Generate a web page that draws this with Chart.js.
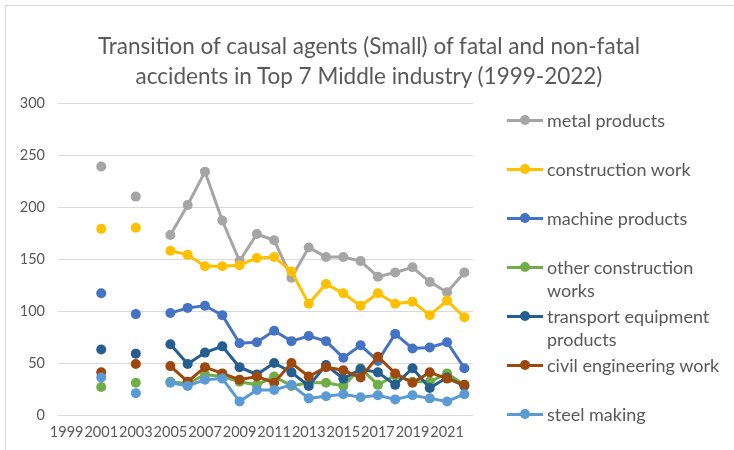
<!DOCTYPE html>
<html>
<head>
<meta charset="utf-8">
<script src="https://cdn.jsdelivr.net/npm/chart.js@4"></script>
<style>
  body { margin: 0; background: #fff; }
  #wrap { position: relative; width: 734px; height: 450px; overflow: hidden; }
  #frame { position: absolute; left: 5px; top: 5px; right: -10px; bottom: -10px; border-top: 1px solid #d9d9d9; border-left: 1px solid #d9d9d9; }
  #chart { position: absolute; left: 0; top: 0; }
  #title { position: absolute; left: 0; width: 738px; top: 31px; text-align: center; font: 22.5px Lato, sans-serif; line-height: 30px; color: #595959; }
  #legend { position: absolute; left: 507px; top: 109px; width: 225px; font: 18px Lato, sans-serif; color: #595959; }
  .item { position: relative; height: 49px; line-height: 23px; padding-left: 40px; }
  .item .txt { width: 178px; }
  .swatch { position: absolute; left: 0; top: 10px; width: 36px; height: 3px; }
  .dot { position: absolute; left: 13px; top: -4px; width: 10px; height: 10px; border-radius: 50%; }
</style>
</head>
<body>
<div id="wrap">
  <div id="frame"></div>
  <canvas id="chart" width="734" height="450"></canvas>
  <div id="title">Transition of causal agents (Small) of fatal and non-fatal<br>accidents in Top 7 Middle industry (1999-2022)</div>
  <div id="legend"></div>
</div>
<script>
// years 1999-2022, gaps where no survey value
var years = ['1999', '2000', '2001', '2002', '2003', '2004', '2005', '2006', '2007', '2008', '2009', '2010',
             '2011', '2012', '2013', '2014', '2015', '2016', '2017', '2018', '2019', '2020', '2021', '2022'];

var metalProducts = [null, null, 239, null, 210, null, 173, 202, 234, 187, 148, 174, 168, 132, 161, 152, 152, 148, 133, 137, 142, 128, 118, 137];
var constructionWork = [null, null, 179, null, 180, null, 158, 154, 143, 143, 144, 151, 152, 138, 107, 126, 117, 105, 117, 107, 109, 96, 110, 94];
var machineProducts = [null, null, 117, null, 97, null, 98, 103, 105, 96, 69, 70, 81, 71, 76, 71, 55, 67, 52, 78, 64, 65, 70, 45];
var otherConstruction = [null, null, 27, null, 31, null, 32, 30, 39, 37, 32, 29, 37, 28, 31, 31, 28, 45, 29, 38, 32, 32, 40, 29];
var transportEquipment = [null, null, 63, null, 59, null, 68, 49, 60, 66, 46, 39, 50, 41, 28, 48, 35, 44, 41, 29, 45, 26, 36, 28];
var civilEngineering = [null, null, 41, null, 49, null, 47, 32, 46, 40, 34, 37, 31, 50, 37, 46, 43, 36, 56, 40, 31, 41, 35, 29];
var steelMaking = [null, null, 36, null, 21, null, 31, 28, 34, 35, 13, 24, 24, 29, 16, 18, 20, 17, 19, 15, 19, 16, 13, 20];

var seriesNames = ['metal products', 'construction work', 'machine products', 'other construction works',
                   'transport equipment products', 'civil engineering work', 'steel making'];
var seriesData = [metalProducts, constructionWork, machineProducts, otherConstruction, transportEquipment, civilEngineering, steelMaking];
var colors = ['#A5A5A5', '#FFC000', '#4472C4', '#70AD47', '#255E91', '#9E480E', '#5B9BD5'];

var datasets = seriesNames.map(function (name, i) {
    return {
        label: name,
        data: seriesData[i],
        borderColor: colors[i],
        backgroundColor: colors[i],
        borderWidth: 3,
        pointRadius: 5,
        pointBorderWidth: 0,
        pointHoverRadius: 5,
        spanGaps: false,
        tension: 0,
        order: seriesNames.length - i   // later series drawn on top, like excel
    };
});

var tickFont = { family: 'Lato', size: 14.5 };

var ctx = document.getElementById('chart').getContext('2d');
var chart = new Chart(ctx, {
    type: 'line',
    data: { labels: years, datasets: datasets },
    options: {
        responsive: false,
        animation: false,
        layout: { padding: { left: 0, top: 103, right: 261, bottom: 0 } },
        plugins: {
            legend: { display: false },
            title: { display: false },
            tooltip: { enabled: false }
        },
        scales: {
            x: {
                offset: true,
                grid: { display: false, drawTicks: false },
                border: { display: false },
                ticks: {
                    color: '#595959',
                    font: tickFont,
                    padding: 9,
                    autoSkip: false,
                    maxRotation: 0,
                    callback: function (val, idx) {
                        return idx % 2 === 0 ? this.getLabelForValue(val) : '';
                    }
                },
                afterFit: function (scale) { scale.height = 35; }
            },
            y: {
                min: 0,
                max: 300,
                grid: { color: '#d9d9d9', lineWidth: 1, drawTicks: false },
                border: { display: false },
                ticks: { stepSize: 50, color: '#595959', font: tickFont, padding: 13 },
                afterFit: function (scale) { scale.width = 58; }
            }
        }
    }
});

// legend in html so the long names can wrap like the original
var legend = document.getElementById('legend');
seriesNames.forEach(function (name, i) {
    var item = document.createElement('div');
    item.className = 'item';
    item.innerHTML = '<div class="swatch" style="background:' + colors[i] + '">' +
        '<div class="dot" style="background:' + colors[i] + '"></div></div>' +
        '<div class="txt">' + name + '</div>';
    legend.appendChild(item);
});
</script>
</body>
</html>
